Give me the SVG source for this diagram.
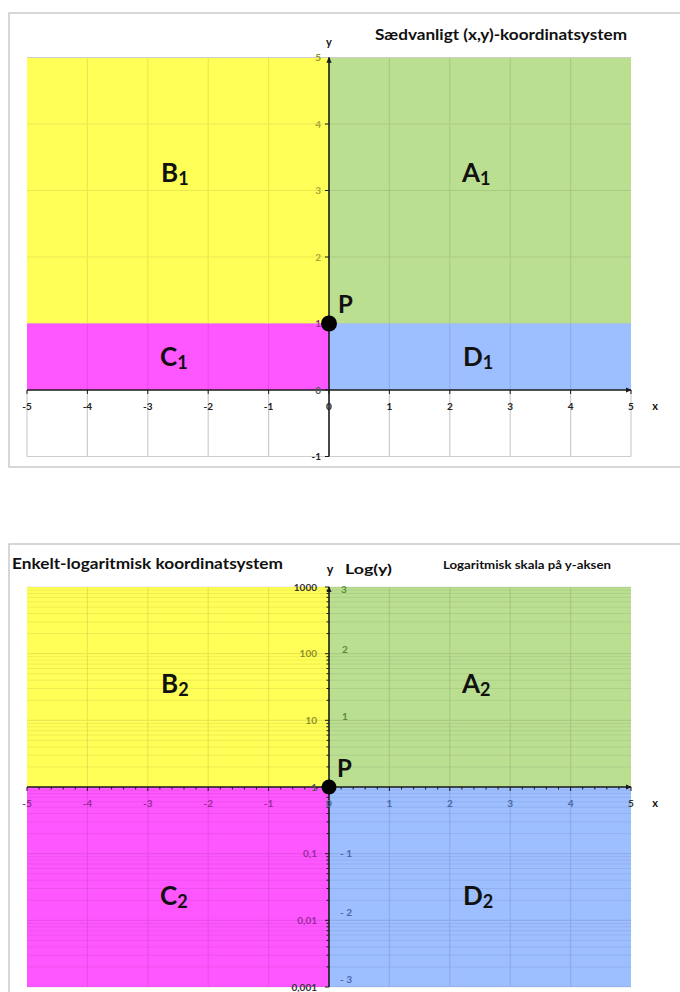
<svg xmlns="http://www.w3.org/2000/svg" width="680" height="992" viewBox="0 0 680 992">
<style>
text{font-family:Lato,"Open Sans","Liberation Sans",sans-serif;font-weight:bold}
.frame{fill:none;stroke:#BDBDBD;stroke-width:1.2}
.yel{fill:#FFFF58}.grn{fill:#BADF91}.mag{fill:#FF57FF}.blu{fill:#9DBEFF}
.grid{stroke:#000;stroke-opacity:0.09;stroke-width:1.2;fill:none}
.minor{stroke:#000;stroke-opacity:0.07;stroke-width:1;fill:none}
.wgrid{stroke:#CDCDCD;stroke-width:1.2;fill:none}
.axis{stroke:#1a1a1a;stroke-width:1.6;fill:none}
.tick{stroke:#1a1a1a;stroke-width:1;fill:none}
.big{font-size:26px;fill:#111}
.sub{font-size:18px}
.num{font-size:10px;fill:#222}
.lbl{font-size:11px;fill:#111}
.lbl2{font-size:12.5px;fill:#111}
.title{font-size:15px;fill:#111}
</style>
<defs>
<marker id="arr" viewBox="0 0 8 8" refX="7" refY="4" markerWidth="6" markerHeight="6" orient="auto" markerUnits="userSpaceOnUse">
<path d="M0,0.5 L8,4 L0,7.5 Z" fill="#1a1a1a"/>
</marker>
</defs>
<rect width="680" height="992" fill="#fff"/>

<!-- ===== Top chart ===== -->
<g id="chart1">
<rect class="frame" x="9" y="13" width="690" height="454"/>
<text class="title" x="375" y="40" textLength="252" lengthAdjust="spacingAndGlyphs">Sædvanligt (x,y)-koordinatsystem</text>
<g id="B1"><rect class="yel" x="27" y="57.5" width="302" height="266"/><text class="big" x="161" y="182">B<tspan class="sub" dy="3">1</tspan></text></g>
<g id="A1"><rect class="grn" x="329" y="57.5" width="302" height="266"/><text class="big" x="462" y="182">A<tspan class="sub" dy="3">1</tspan></text></g>
<g id="C1"><rect class="mag" x="27" y="323.5" width="302" height="66.5"/><text class="big" x="160" y="366">C<tspan class="sub" dy="3">1</tspan></text></g>
<g id="D1"><rect class="blu" x="329" y="323.5" width="302" height="66.5"/><text class="big" x="463" y="366">D<tspan class="sub" dy="3">1</tspan></text></g>
<path class="grid" d="M87.4 57.5V390M147.8 57.5V390M208.2 57.5V390M268.6 57.5V390M389.4 57.5V390M449.8 57.5V390M510.2 57.5V390M570.6 57.5V390M27 124H631M27 190.5H631M27 257H631M27 323.5H631"/>
<path class="wgrid" d="M27 57.5H631M27 390V456.5M87.4 390V456.5M147.8 390V456.5M208.2 390V456.5M268.6 390V456.5M389.4 390V456.5M449.8 390V456.5M510.2 390V456.5M570.6 390V456.5M631 390V456.5M27 456.5H631"/>
</g>
<g id="connectors1">
<line class="axis" x1="27" y1="390" x2="631" y2="390" marker-end="url(#arr)"/>
<line class="axis" x1="329" y1="456.5" x2="329" y2="57.5" marker-end="url(#arr)"/>
<path class="tick" d="M27 390v4M87.4 390v4M147.8 390v4M208.2 390v4M268.6 390v4M329 390v4M389.4 390v4M449.8 390v4M510.2 390v4M570.6 390v4M631 390v4M325 124h4M325 190.5h4M325 257h4M325 323.5h4M325 390h4M325 456.5h4"/>
</g>
<g id="axislabels1">
<text class="lbl" x="329" y="46" text-anchor="middle">y</text>
<text class="lbl" x="655" y="410" text-anchor="middle">x</text>
<g class="num" text-anchor="middle">
<text x="27" y="410">-5</text><text x="87.4" y="410">-4</text><text x="147.8" y="410">-3</text><text x="208.2" y="410">-2</text><text x="268.6" y="410">-1</text><text x="329" y="410">0</text><text x="389.4" y="410">1</text><text x="449.8" y="410">2</text><text x="510.2" y="410">3</text><text x="570.6" y="410">4</text><text x="631" y="410">5</text>
</g>
<g class="num" text-anchor="end">
<text x="321" y="61" fill="#8f8f2a">5</text><text x="321" y="128" fill="#a8a834">4</text><text x="321" y="194" fill="#a8a834">3</text><text x="321" y="261" fill="#a8a834">2</text><text x="321" y="327" fill="#9a2a9a">1</text><text x="321" y="393.5" fill="#555">0</text><text x="321" y="460">-1</text>
</g>
</g>
<g id="P1">
<circle cx="329" cy="323.5" r="8" fill="#000"/>
<text x="338" y="313" font-size="24" fill="#111">P</text>
</g>

<!-- ===== Bottom chart ===== -->
<g id="chart2">
<rect class="frame" x="9" y="544" width="690" height="470"/>
<text class="title" x="12" y="569" textLength="271" lengthAdjust="spacingAndGlyphs">Enkelt-logaritmisk koordinatsystem</text>
<text class="lbl" x="443" y="569" textLength="168" lengthAdjust="spacingAndGlyphs">Logaritmisk skala på y-aksen</text>
<text class="lbl2" x="330" y="574" text-anchor="middle">y</text>
<text class="lbl2" x="345" y="574" textLength="47" lengthAdjust="spacingAndGlyphs">Log(y)</text>
<g id="B2"><rect class="yel" x="27" y="587" width="302" height="200"/><text class="big" x="161" y="693">B<tspan class="sub" dy="3">2</tspan></text></g>
<g id="A2"><rect class="grn" x="329" y="587" width="302" height="200"/><text class="big" x="462" y="693">A<tspan class="sub" dy="3">2</tspan></text></g>
<g id="C2"><rect class="mag" x="27" y="787" width="302" height="200"/><text class="big" x="160" y="905">C<tspan class="sub" dy="3">2</tspan></text></g>
<g id="D2"><rect class="blu" x="329" y="787" width="302" height="200"/><text class="big" x="463" y="905">D<tspan class="sub" dy="3">2</tspan></text></g>
<path class="grid" d="M87.4 587V987M147.8 587V987M208.2 587V987M268.6 587V987M389.4 587V987M449.8 587V987M510.2 587V987M570.6 587V987M27 587H631M27 653.7H631M27 720.3H631M27 853.7H631M27 920.3H631M27 987H631"/>
<path class="minor" d="M27 966.9H631M27 955.2H631M27 946.9H631M27 940.4H631M27 935.1H631M27 930.7H631M27 926.8H631M27 923.4H631M27 900.3H631M27 888.5H631M27 880.2H631M27 873.7H631M27 868.5H631M27 864H631M27 860.1H631M27 856.7H631M27 833.6H631M27 821.9H631M27 813.5H631M27 807.1H631M27 801.8H631M27 797.3H631M27 793.5H631M27 790.1H631M27 766.9H631M27 755.2H631M27 746.9H631M27 740.4H631M27 735.1H631M27 730.7H631M27 726.8H631M27 723.4H631M27 700.3H631M27 688.5H631M27 680.2H631M27 673.7H631M27 668.5H631M27 664H631M27 660.1H631M27 656.7H631M27 633.6H631M27 621.9H631M27 613.5H631M27 607.1H631M27 601.8H631M27 597.3H631M27 593.5H631M27 590.1H631"/>
</g>
<g id="connectors2">
<line class="axis" x1="27" y1="787" x2="631" y2="787" marker-end="url(#arr)"/>
<line class="axis" x1="329" y1="987" x2="329" y2="587" marker-end="url(#arr)"/>
<path class="tick" d="M27 787v4M87.4 787v4M147.8 787v4M208.2 787v4M268.6 787v4M329 787v4M389.4 787v4M449.8 787v4M510.2 787v4M570.6 787v4M631 787v4"/>
<path class="tick" stroke-width="0.9" d="M39.1 787v2.5M51.2 787v2.5M63.2 787v2.5M75.3 787v2.5M99.5 787v2.5M111.6 787v2.5M123.6 787v2.5M135.7 787v2.5M159.9 787v2.5M172 787v2.5M184 787v2.5M196.1 787v2.5M220.3 787v2.5M232.4 787v2.5M244.4 787v2.5M256.5 787v2.5M280.7 787v2.5M292.8 787v2.5M304.8 787v2.5M316.9 787v2.5M341.1 787v2.5M353.2 787v2.5M365.2 787v2.5M377.3 787v2.5M401.5 787v2.5M413.6 787v2.5M425.6 787v2.5M437.7 787v2.5M461.9 787v2.5M474 787v2.5M486 787v2.5M498.1 787v2.5M522.3 787v2.5M534.4 787v2.5M546.4 787v2.5M558.5 787v2.5M582.7 787v2.5M594.8 787v2.5M606.8 787v2.5M618.9 787v2.5"/>
<path class="tick" d="M325 587h4M325 653.7h4M325 720.3h4M325 787h4M325 853.7h4M325 920.3h4M325 987h4"/>
<path class="tick" stroke-width="0.9" d="M326.5 966.9h2.5M326.5 955.2h2.5M326.5 946.9h2.5M326.5 940.4h2.5M326.5 935.1h2.5M326.5 930.7h2.5M326.5 926.8h2.5M326.5 923.4h2.5M326.5 900.3h2.5M326.5 888.5h2.5M326.5 880.2h2.5M326.5 873.7h2.5M326.5 868.5h2.5M326.5 864h2.5M326.5 860.1h2.5M326.5 856.7h2.5M326.5 833.6h2.5M326.5 821.9h2.5M326.5 813.5h2.5M326.5 807.1h2.5M326.5 801.8h2.5M326.5 797.3h2.5M326.5 793.5h2.5M326.5 790.1h2.5M326.5 766.9h2.5M326.5 755.2h2.5M326.5 746.9h2.5M326.5 740.4h2.5M326.5 735.1h2.5M326.5 730.7h2.5M326.5 726.8h2.5M326.5 723.4h2.5M326.5 700.3h2.5M326.5 688.5h2.5M326.5 680.2h2.5M326.5 673.7h2.5M326.5 668.5h2.5M326.5 664h2.5M326.5 660.1h2.5M326.5 656.7h2.5M326.5 633.6h2.5M326.5 621.9h2.5M326.5 613.5h2.5M326.5 607.1h2.5M326.5 601.8h2.5M326.5 597.3h2.5M326.5 593.5h2.5M326.5 590.1h2.5"/>
</g>
<g id="axislabels2">
<text class="lbl" x="655" y="807" text-anchor="middle">x</text>
<g class="num" text-anchor="middle">
<text x="27" y="807" fill="#8c2a8c">-5</text><text x="87.4" y="807" fill="#9a2a9a">-4</text><text x="147.8" y="807" fill="#9a2a9a">-3</text><text x="208.2" y="807" fill="#9a2a9a">-2</text><text x="268.6" y="807" fill="#9a2a9a">-1</text><text x="329" y="807" fill="#4a68a0">0</text><text x="389.4" y="807" fill="#4a68a0">1</text><text x="449.8" y="807" fill="#4a68a0">2</text><text x="510.2" y="807" fill="#4a68a0">3</text><text x="570.6" y="807" fill="#4a68a0">4</text><text x="631" y="807" fill="#333">5</text>
</g>
<g class="num" text-anchor="end" font-weight="normal">
<text x="317" y="590.5" fill="#333">1000</text><text x="317" y="657" fill="#8f8f2a">100</text><text x="317" y="724" fill="#8f8f2a">10</text><text x="317" y="790.5" fill="#555">1</text><text x="317" y="857" fill="#9a2a9a">0,1</text><text x="317" y="924" fill="#9a2a9a">0,01</text><text x="317" y="990.5" fill="#333">0,001</text>
</g>
<g class="num">
<text x="341" y="593" fill="#5a8a3a">3</text><text x="342" y="653" fill="#5a8a3a">2</text><text x="342" y="720" fill="#5a8a3a">1</text><text x="340" y="857" fill="#4a68a8">- 1</text><text x="340" y="916" fill="#4a68a8">- 2</text><text x="340" y="983" fill="#4a68a8">- 3</text>
</g>
</g>
<g id="P2">
<circle cx="329" cy="787" r="7.5" fill="#000"/>
<text x="337" y="777" font-size="24" fill="#111">P</text>
</g>
</svg>
